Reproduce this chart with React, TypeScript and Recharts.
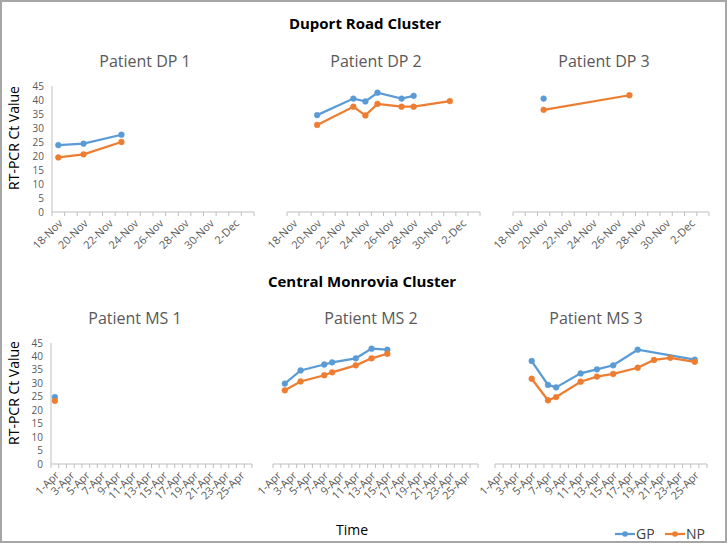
import React from 'react';
import { LineChart, Line, XAxis, YAxis } from 'recharts';

// x categories (one per day)
const novDays = [
  '18-Nov', '19-Nov', '20-Nov', '21-Nov', '22-Nov', '23-Nov', '24-Nov', '25-Nov',
  '26-Nov', '27-Nov', '28-Nov', '29-Nov', '30-Nov', '1-Dec', '2-Dec', '3-Dec',
];
const aprDays = [
  '1-Apr', '2-Apr', '3-Apr', '4-Apr', '5-Apr', '6-Apr', '7-Apr', '8-Apr', '9-Apr',
  '10-Apr', '11-Apr', '12-Apr', '13-Apr', '14-Apr', '15-Apr', '16-Apr', '17-Apr',
  '18-Apr', '19-Apr', '20-Apr', '21-Apr', '22-Apr', '23-Apr', '24-Apr', '25-Apr', '26-Apr',
];
const ctTicks = [0, 5, 10, 15, 20, 25, 30, 35, 40, 45];

// Duport Road cluster
const dp1GpDates = ['18-Nov', '20-Nov', '23-Nov'];
const dp1Gp = [23.9, 24.4, 27.6];
const dp1NpDates = ['18-Nov', '20-Nov', '23-Nov'];
const dp1Np = [19.5, 20.6, 25.0];

const dp2GpDates = ['20-Nov', '23-Nov', '24-Nov', '25-Nov', '27-Nov', '28-Nov'];
const dp2Gp = [34.6, 40.5, 39.5, 42.6, 40.5, 41.5];
const dp2NpDates = ['20-Nov', '23-Nov', '24-Nov', '25-Nov', '27-Nov', '28-Nov', '1-Dec'];
const dp2Np = [31.1, 37.6, 34.5, 38.6, 37.6, 37.6, 39.6];

const dp3GpDates = ['20-Nov'];
const dp3Gp = [40.5];
const dp3NpDates = ['20-Nov', '27-Nov'];
const dp3Np = [36.5, 41.7];

// Central Monrovia cluster
const ms1GpDates = ['1-Apr'];
const ms1Gp = [24.9];
const ms1NpDates = ['1-Apr'];
const ms1Np = [23.5];

const ms2GpDates = ['2-Apr', '4-Apr', '7-Apr', '8-Apr', '11-Apr', '13-Apr', '15-Apr'];
const ms2Gp = [29.9, 34.8, 37.0, 37.8, 39.3, 42.9, 42.5];
const ms2NpDates = ['2-Apr', '4-Apr', '7-Apr', '8-Apr', '11-Apr', '13-Apr', '15-Apr'];
const ms2Np = [27.4, 30.7, 33.0, 34.1, 36.7, 39.3, 41.0];

const ms3GpDates = ['5-Apr', '7-Apr', '8-Apr', '11-Apr', '13-Apr', '15-Apr', '18-Apr', '25-Apr'];
const ms3Gp = [38.3, 29.4, 28.5, 33.7, 35.2, 36.7, 42.5, 38.8];
const ms3NpDates = ['5-Apr', '7-Apr', '8-Apr', '11-Apr', '13-Apr', '15-Apr', '18-Apr', '20-Apr', '22-Apr', '25-Apr'];
const ms3Np = [31.7, 23.7, 24.9, 30.6, 32.5, 33.5, 35.8, 38.7, 39.5, 38.0];

const GP_COLOR = '#5b9bd5';
const NP_COLOR = '#ed7d31';
const AXIS_COLOR = '#bfbfbf';
const FONT = '"Open Sans", "Noto Sans", sans-serif';

const buildData = (days: string[], gpDates: string[], gp: number[], npDates: string[], np: number[]) =>
  days.map((d, i) => {
    const g = gpDates.indexOf(d);
    const n = npDates.indexOf(d);
    return { idx: i, day: d, gp: g >= 0 ? gp[g] : null, np: n >= 0 ? np[n] : null };
  });

// tick marks between days, labels on every other day
const DayTick = ({ x, y, payload, days }: any) => {
  const v = payload.value;
  if (!Number.isInteger(v)) {
    return <line x1={x} x2={x} y1={y} y2={y + 4} stroke={AXIS_COLOR} />;
  }
  if (v % 2 !== 0) return <g />;
  const tx = x + 5;
  const ty = y + 12;
  return (
    <text x={tx} y={ty} transform={`rotate(-45 ${tx} ${ty})`} textAnchor="end"
      fontSize={11} fill="#595959" fontFamily={FONT}>
      {days[v]}
    </text>
  );
};

interface PanelProps {
  left: number; top: number; w: number; h: number;
  days: string[]; data: any[]; showY?: boolean;
}

const Panel = ({ left, top, w, h, days, data, showY }: PanelProps) => {
  const padL = 40, padT = 10, padR = 10, padB = 60;
  const xTicks = days.flatMap((_, i) => [i - 0.5, i]).concat(days.length - 0.5);
  return (
    <div style={{ position: 'absolute', left: left - padL, top: top - padT }}>
      <LineChart width={w + padL + padR} height={h + padT + padB} data={data}
        margin={{ top: padT, right: padR, bottom: 0, left: showY ? padL - 30 : padL }}>
        <XAxis type="number" dataKey="idx" domain={[-0.5, days.length - 0.5]} ticks={xTicks}
          interval={0} tickSize={0} tickMargin={0} tickLine={false} allowDataOverflow
          axisLine={{ stroke: AXIS_COLOR }} height={padB} tick={<DayTick days={days} />} />
        <YAxis hide={!showY} width={30} domain={[0, 45]} ticks={ctTicks} interval={0}
          tickLine={false} tickSize={0} tickMargin={8} axisLine={{ stroke: AXIS_COLOR }}
          tick={{ fontSize: 10, fill: '#595959', fontFamily: FONT }} />
        <Line type="linear" dataKey="gp" stroke={GP_COLOR} strokeWidth={2.25} connectNulls
          dot={{ r: 2.9, fill: GP_COLOR, stroke: GP_COLOR, strokeWidth: 0.5 }} isAnimationActive={false} />
        <Line type="linear" dataKey="np" stroke={NP_COLOR} strokeWidth={2.25} connectNulls
          dot={{ r: 2.9, fill: NP_COLOR, stroke: NP_COLOR, strokeWidth: 0.5 }} isAnimationActive={false} />
      </LineChart>
    </div>
  );
};

const Label = ({ x, y, children, style }: any) => (
  <div style={{ position: 'absolute', left: x - 150, top: y, width: 300, textAlign: 'center',
    transform: 'translateY(-50%)', whiteSpace: 'nowrap', lineHeight: 1, ...style }}>
    {children}
  </div>
);

const LegendItem = ({ x, color, text }: any) => (
  <div style={{ position: 'absolute', left: x, top: 524, display: 'flex', alignItems: 'center' }}>
    <svg width={20} height={16}>
      <line x1={0} x2={20} y1={8} y2={8} stroke={color} strokeWidth={2.25} />
      <circle cx={10} cy={8} r={2.8} fill={color} />
    </svg>
    <span style={{ fontSize: 14, color: '#404040', marginLeft: 1 }}>{text}</span>
  </div>
);

const subTitle = { fontSize: 16, color: '#595959' };
const clusterTitle = { fontSize: 15, fontWeight: 700, color: '#000' };

export default function App() {
  return (
    <div style={{ position: 'absolute', left: 0, top: 0, width: 728, height: 544, background: '#fff',
      fontFamily: FONT, overflow: 'hidden' }}>
      <div style={{ position: 'absolute', left: 0, top: 0, width: 727, height: 543,
        border: '2px solid #a6a6a6', boxSizing: 'border-box' }} />

      <Label x={365} y={23} style={clusterTitle}>Duport Road Cluster</Label>
      <Label x={362} y={281} style={clusterTitle}>Central Monrovia Cluster</Label>

      <Label x={145} y={61} style={subTitle}>Patient DP 1</Label>
      <Label x={376} y={61} style={subTitle}>Patient DP 2</Label>
      <Label x={604} y={61} style={subTitle}>Patient DP 3</Label>
      <Label x={135} y={318} style={subTitle}>Patient MS 1</Label>
      <Label x={371} y={318} style={subTitle}>Patient MS 2</Label>
      <Label x={596} y={318} style={subTitle}>Patient MS 3</Label>

      <Label x={14} y={138} style={{ fontSize: 14, color: '#000', transform: 'translateY(-50%) rotate(-90deg)' }}>
        RT-PCR Ct Value
      </Label>
      <Label x={14} y={393} style={{ fontSize: 14, color: '#000', transform: 'translateY(-50%) rotate(-90deg)' }}>
        RT-PCR Ct Value
      </Label>

      <Panel left={52} top={86} w={202} h={126} days={novDays} showY
        data={buildData(novDays, dp1GpDates, dp1Gp, dp1NpDates, dp1Np)} />
      <Panel left={287} top={86} w={193} h={126} days={novDays}
        data={buildData(novDays, dp2GpDates, dp2Gp, dp2NpDates, dp2Np)} />
      <Panel left={513} top={86} w={196} h={126} days={novDays}
        data={buildData(novDays, dp3GpDates, dp3Gp, dp3NpDates, dp3Np)} />

      <Panel left={51} top={343} w={201} h={121} days={aprDays} showY
        data={buildData(aprDays, ms1GpDates, ms1Gp, ms1NpDates, ms1Np)} />
      <Panel left={273} top={343} w={205} h={121} days={aprDays}
        data={buildData(aprDays, ms2GpDates, ms2Gp, ms2NpDates, ms2Np)} />
      <Panel left={495} top={343} w={212} h={121} days={aprDays}
        data={buildData(aprDays, ms3GpDates, ms3Gp, ms3NpDates, ms3Np)} />

      <Label x={352} y={530} style={{ fontSize: 14, color: '#000' }}>Time</Label>

      <LegendItem x={615} color={GP_COLOR} text="GP" />
      <LegendItem x={665} color={NP_COLOR} text="NP" />
    </div>
  );
}
